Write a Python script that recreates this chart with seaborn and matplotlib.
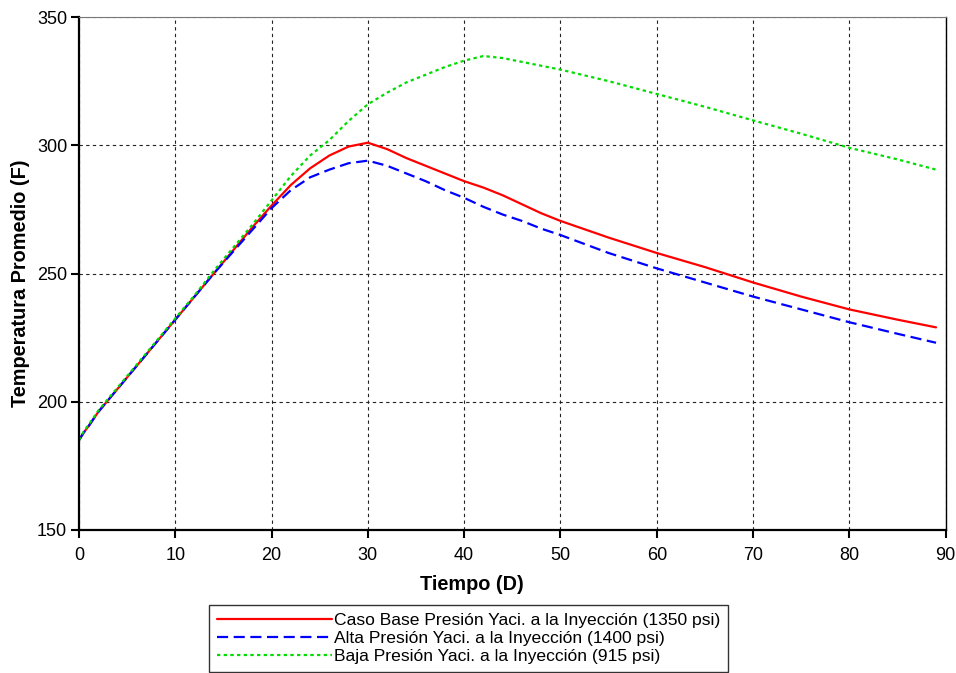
import matplotlib
matplotlib.use("Agg")
import matplotlib.pyplot as plt
import seaborn as sns
import pandas as pd

tiempo = [0, 0.5, 1, 2, 3, 4, 6, 8, 10, 12, 14, 16, 18, 20, 22, 24, 26, 28, 30,
          32, 34, 36, 38, 40, 42, 44, 46, 48, 50, 55, 60, 65, 70, 75, 80, 85, 89]

caso_base = [185, 188, 190.5, 196, 200.5, 205, 214, 223, 232, 241, 250, 259, 268,
             276.5, 284.5, 291, 296, 299.5, 301, 298.5, 295, 292, 289, 286, 283.5,
             280.5, 277, 273.5, 270.5, 264, 258, 252.5, 246.5, 241, 236, 232, 229]

alta = [185, 188, 190.5, 196, 200.5, 205, 214, 223, 232, 241, 250, 258.5, 267,
        275.5, 282.5, 287.5, 290.5, 293, 294, 292, 289, 286, 282.5, 279.5, 276,
        273, 270.5, 267.5, 265, 258, 252, 246.5, 241, 236, 231, 226.5, 223]

baja = [185, 188.5, 191, 196.5, 201, 205.5, 214.5, 223.5, 232.5, 241.5, 251, 260, 269,
        278.5, 288, 296, 302, 309.5, 316, 320.5, 324.5, 327.5, 330.5, 333, 334.8,
        334, 332.5, 331, 329.5, 325, 320, 315, 309.7, 304.5, 299, 294.5, 290.5]

labels = ["Caso Base Presión Yaci. a la Inyección (1350 psi)",
          "Alta Presión Yaci. a la Inyección (1400 psi)",
          "Baja Presión Yaci. a la Inyección (915 psi)"]

sns.set_style("white")
plt.rcParams['font.family'] = ['Liberation Sans', 'DejaVu Sans']
plt.rcParams['text.color'] = 'black'
plt.rcParams['axes.labelcolor'] = 'black'
plt.rcParams['xtick.color'] = 'black'
plt.rcParams['ytick.color'] = 'black'

fig = plt.figure(figsize=(9.56, 6.73), dpi=100)
ax = fig.add_axes([0.0826, 0.2125, 0.9066, 0.7622])

sns.lineplot(x=tiempo, y=caso_base, ax=ax, color="#ff0000", linewidth=1.6,
             linestyle="-", label=labels[0])
sns.lineplot(x=tiempo, y=alta, ax=ax, color="#0000ff", linewidth=1.6,
             linestyle=(0, (5, 2.5)), label=labels[1])
sns.lineplot(x=tiempo, y=baja, ax=ax, color="#00dd00", linewidth=1.6,
             linestyle=(0, (1.5, 1.5)), label=labels[2])

ax.set_xlim(0, 90)
ax.set_ylim(150, 350)
ax.set_xticks(range(0, 91, 10))
ax.set_yticks(range(150, 351, 50))
ax.grid(True, color="#222222", linestyle=(0, (3, 3)), linewidth=0.8)
ax.set_axisbelow(True)

for s in ["left", "bottom"]:
    ax.spines[s].set_linewidth(1.6)
    ax.spines[s].set_color("black")
ax.spines["top"].set_linewidth(0.8)
ax.spines["top"].set_color("#777777")
ax.spines["right"].set_linewidth(1.0)
ax.spines["right"].set_color("black")

ax.tick_params(axis="both", which="major", direction="out", length=5.5, width=1.5,
               labelsize=13, bottom=True, left=True, top=False, right=False,
               color="black", labelcolor="black")
ax.tick_params(axis="x", pad=6.5)
ax.tick_params(axis="y", pad=3)

ax.set_xlabel("Tiempo (D)", fontsize=14.3, fontweight="bold", color="black")
ax.set_ylabel("Temperatura Promedio (F)", fontsize=14.3, fontweight="bold", color="black")
ax.xaxis.set_label_coords(0.4535, -0.088)
ax.yaxis.set_label_coords(-0.0565, 0.481)

leg = ax.legend(loc="upper left", bbox_to_anchor=(209 / 956, 1 - 605 / 673),
                bbox_transform=fig.transFigure, fontsize=12.6, frameon=True,
                fancybox=False, edgecolor="black", handlelength=6.6,
                handletextpad=0.1, labelspacing=0.15, borderpad=0.45,
                borderaxespad=0, markerfirst=True)
leg.get_frame().set_linewidth(1.0)
for txt in leg.get_texts():
    txt.set_color("black")

fig.savefig("out.png", dpi=100)
